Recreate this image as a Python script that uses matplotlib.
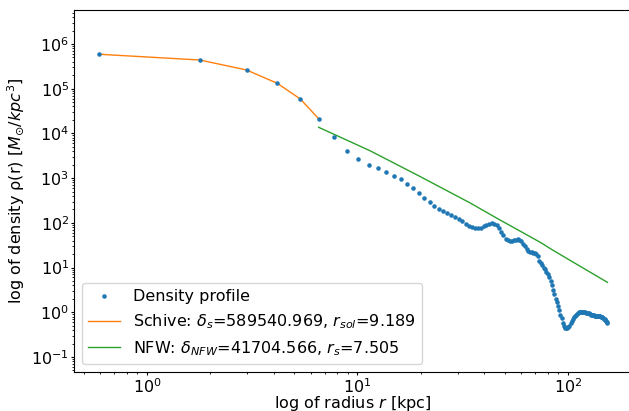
import numpy as np
import matplotlib
matplotlib.use("Agg")
import matplotlib.pyplot as plt

# radius grid of the density profile [kpc]
radius = [
    0.594, 1.783, 2.972, 4.161, 5.350, 6.539, 7.728, 8.917, 10.106, 11.295,
    12.484, 13.673, 14.862, 16.051, 17.240, 18.429, 19.618, 20.807, 21.996, 23.185,
    24.374, 25.563, 26.752, 27.941, 29.130, 30.319, 31.508, 32.697, 33.886, 35.075,
    36.264, 37.453, 38.642, 39.831, 41.020, 42.209, 43.398, 44.587, 45.776, 46.965,
    48.154, 49.343, 50.532, 51.721, 52.910, 54.099, 55.288, 56.477, 57.666, 58.855,
    60.044, 61.233, 62.422, 63.611, 64.800, 65.989, 67.178, 68.367, 69.556, 70.745,
    71.934, 73.123, 74.312, 75.501, 76.690, 77.879, 79.068, 80.257, 81.446, 82.635,
    83.824, 85.013, 86.202, 87.391, 88.580, 89.769, 90.958, 92.147, 93.336, 94.525,
    95.714, 96.903, 98.092, 99.281, 100.470, 101.659, 102.848, 104.037, 105.226, 106.415,
    107.604, 108.793, 109.982, 111.171, 112.360, 113.549, 114.738, 115.927, 117.116, 118.305,
    119.494, 120.683, 121.872, 123.061, 124.250, 125.439, 126.628, 127.817, 129.006, 130.195,
    131.384, 132.573, 133.762, 134.951, 136.140, 137.329, 138.518, 139.707, 140.896, 142.085,
    143.274, 144.463, 145.652, 146.841, 148.030, 149.219, 150.408, 151.597, 152.786, 153.975,
]

# density profile [M_sun / kpc^3]
density = [
    5.89e5, 4.38e5, 2.62e5, 1.32e5, 5.89e4, 2.13e4, 8180, 4040, 2630, 1960,
    1710, 1390, 1130, 940, 738, 591, 457, 365, 292, 241,
    209, 187, 166, 149, 137, 124, 110, 95.5, 86.5, 80.5,
    76.0, 75.0, 77.6, 83.0, 89.3, 94.0, 97.0, 95.5, 88.8, 77.3,
    63.8, 52.2, 44.3, 40.4, 39.2, 39.8, 41.2, 42.3, 42.8, 41.7,
    38.4, 34.4, 30.0, 26.6, 24.0, 22.4, 21.8, 21.4, 20.9, 19.7,
    18.1, 14.3, 12.5, 11.2, 10.0, 9.06, 8.14, 7.23, 6.07, 4.94,
    3.98, 3.09, 2.55, 1.94, 1.66, 1.36, 1.10, 0.875, 0.731, 0.580,
    0.491, 0.452, 0.443, 0.450, 0.471, 0.501, 0.565, 0.622, 0.705, 0.769,
    0.830, 0.883, 0.920, 0.955, 0.990, 1.01, 1.02, 1.02, 1.03, 1.02,
    1.01, 1.00, 0.985, 0.975, 0.960, 0.940, 0.920, 0.902, 0.888, 0.875,
    0.865, 0.852, 0.843, 0.835, 0.830, 0.826, 0.822, 0.822, 0.822, 0.813,
    0.801, 0.785, 0.769, 0.745, 0.723, 0.701, 0.676, 0.649, 0.620, 0.589,
]

# Schive soliton fit (inner part)
schive_r = [0.594, 1.783, 2.972, 4.161, 5.350, 6.539]
schive_rho = [5.89e5, 4.38e5, 2.62e5, 1.32e5, 5.89e4, 2.13e4]

# NFW fit (outer part)
nfw_r = [6.539, 11.47, 19.81, 34.22, 45.8, 73.6, 85.1, 153.975]
nfw_rho = [13700, 4100, 1090, 280, 128, 37.0, 24.2, 4.67]

fs = 11
plt.rcParams['font.size'] = fs

fig = plt.figure(figsize=(6.29, 4.11), dpi=100)
ax = fig.add_axes([74/629, 1-372/411, 558/629, 362/411])

ax.plot(radius, density, '.', color='tab:blue', markersize=4.5, label='Density profile', zorder=3)
ax.plot(schive_r, schive_rho, color='tab:orange', lw=1,
        label=r'Schive: $\delta_s$=589540.969, $r_{sol}$=9.189')
ax.plot(nfw_r, nfw_rho, color='tab:green', lw=1,
        label=r'NFW: $\delta_{NFW}$=41704.566, $r_s$=7.505')

ax.set_xscale('log')
ax.set_yscale('log')
ax.set_xlim(0.45, 201.5)
ax.set_ylim(10**-1.336, 10**6.76)

ax.tick_params(which='major', length=2.5, pad=1, labelsize=fs + 0.5)
ax.tick_params(which='minor', length=1.5)

ax.set_xlabel('log of radius $r$ [kpc]', fontsize=fs + 0.5)
ax.set_ylabel(r'log of density ρ(r) [$M_{\odot}/kpc^3$]', fontsize=fs + 0.5)
ax.xaxis.set_label_coords(0.5, -21.5 / 362)
ax.yaxis.set_label_coords(-47 / 558, 0.5)

ax.legend(loc='lower left', fontsize=fs + 0.5)

fig.savefig('out.png', dpi=100)
